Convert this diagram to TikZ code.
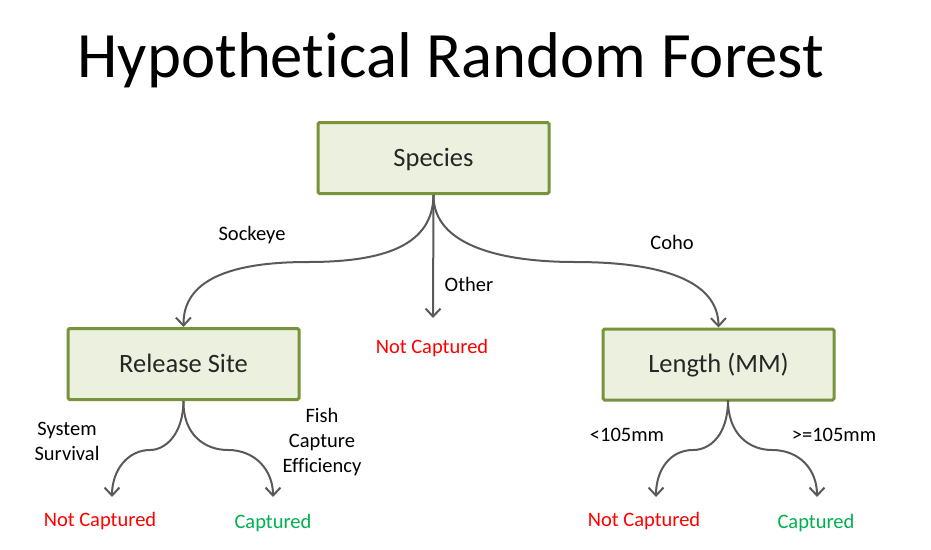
\documentclass[tikz,border=0pt]{standalone}
\usepackage{fontspec}
\setmainfont{Carlito}[Ligatures=NoCommon]
\usetikzlibrary{arrows.meta}
\definecolor{boxfill}{HTML}{EBF1DE}
\definecolor{boxline}{HTML}{77933C}
\definecolor{arrowgray}{HTML}{595959}
\definecolor{capgreen}{HTML}{00B050}
\definecolor{notred}{HTML}{FF0000}
\tikzset{
  treebox/.style={draw=boxline, fill=boxfill, line width=3pt, rounded corners=1.5pt,
    minimum width=231pt, minimum height=71pt, inner sep=0pt, text height=21pt, text depth=5pt,
    font=\fontsize{26.5}{30}\selectfont, text=black!85},
  lbl/.style={font=\fontsize{20.5}{25}\selectfont, align=center, inner sep=0pt, text=black},
  leafno/.style={lbl, text=notred},
  leafyes/.style={lbl, text=capgreen},
  conn/.style={draw=arrowgray, line width=2pt, -{Straight Barb[length=8pt,width=15pt,line width=2pt]}}
}
\begin{document}
\begin{tikzpicture}[x=1pt,y=-1pt]
\useasboundingbox (0,0) rectangle (931,549);
\node[anchor=base, font=\fontsize{64.7}{70}\selectfont, inner sep=0pt] (title) at (451,77) {Hypothetical Random Forest};

\node[treebox] (species) at (433.5,158) {Species};
\node[treebox] (release) at (183.5,364) {Release Site};
\node[treebox] (length) at (718.5,364.5) {Length (MM)};

\node[leafno] (ncmid) at (432,348.5) {Not Captured};
\node[leafno] (ncl) at (100,521.5) {Not Captured};
\node[leafyes] (capl) at (273,523) {Captured};
\node[leafno] (ncr) at (644,521.5) {Not Captured};
\node[leafyes] (capr) at (816,523) {Captured};

\node[lbl] (sockeye) at (252,235) {Sockeye};
\node[lbl] (other) at (469,284) {Other};
\node[lbl] (coho) at (672,242) {Coho};
\node[lbl] (sys) at (67,441) {System\\Survival};
\node[lbl] (fish) at (322,442) {Fish\\Capture\\Efficiency};
\node[lbl] (lt) at (627,435) {<105mm};
\node[lbl] (ge) at (834,435) {>=105mm};

\coordinate (lenstart) at (728,400);
\coordinate (endmid) at (433,318);
\coordinate (endncl) at (112,497);
\coordinate (endcapl) at (273,497);
\coordinate (endncr) at (656,497);
\coordinate (endcapr) at (817,497);

\draw[conn] (species.south) .. controls (433,245) and (385,262) .. (308,262)
  .. controls (230,262) and (183,280) .. (release.north);
\draw[conn] (species.south) -- (endmid);
\draw[conn] (species.south) .. controls (433,245) and (500,262) .. (575,262)
  .. controls (660,262) and (718,280) .. (length.north);

\draw[conn] (release.south) .. controls (183,435) and (165,450) .. (150,450)
  .. controls (128,450) and (112,470) .. (endncl);
\draw[conn] (release.south) .. controls (183,435) and (205,450) .. (228,450)
  .. controls (255,450) and (273,470) .. (endcapl);

\draw[conn] (lenstart) .. controls (728,435) and (710,450) .. (693,450)
  .. controls (670,450) and (656,470) .. (endncr);
\draw[conn] (lenstart) .. controls (728,435) and (750,450) .. (772,450)
  .. controls (800,450) and (817,470) .. (endcapr);
\end{tikzpicture}
\end{document}
